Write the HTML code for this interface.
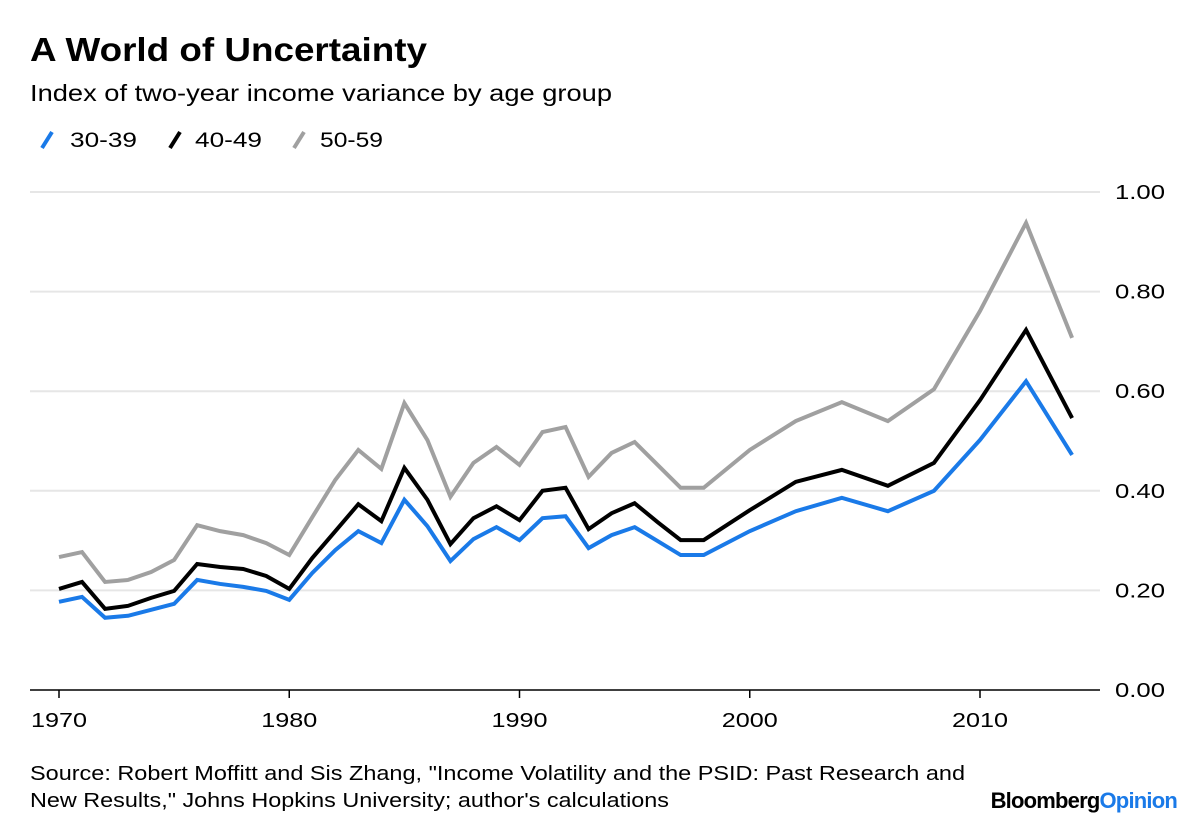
<!DOCTYPE html>
<html><head><meta charset="utf-8"><style>
body{margin:0;background:#fff;width:1200px;height:827px;overflow:hidden;font-family:"Liberation Sans",sans-serif;}
</style></head><body>
<svg width="1200" height="827" xmlns="http://www.w3.org/2000/svg" font-family="Liberation Sans, sans-serif">
<text x="30" y="61" font-size="33" font-weight="bold" fill="#000" textLength="397" lengthAdjust="spacingAndGlyphs">A World of Uncertainty</text>
<text x="30" y="101" font-size="23" fill="#000" textLength="582" lengthAdjust="spacingAndGlyphs">Index of two-year income variance by age group</text>
<g>
<g><line x1="42" y1="148" x2="52" y2="132" stroke="#1a7ae8" stroke-width="4"/><text x="70" y="147" font-size="21" textLength="67" lengthAdjust="spacingAndGlyphs">30-39</text></g>
<g><line x1="170" y1="148" x2="180" y2="132" stroke="#000" stroke-width="4"/><text x="195" y="147" font-size="21" textLength="67" lengthAdjust="spacingAndGlyphs">40-49</text></g>
<g><line x1="294" y1="148" x2="304" y2="132" stroke="#a0a0a0" stroke-width="4"/><text x="320" y="147" font-size="21" textLength="63" lengthAdjust="spacingAndGlyphs">50-59</text></g>
</g>
<g id="grid"></g><g id="axes"></g><g id="lines"></g>
<text x="30" y="780" font-size="20" fill="#000" textLength="935" lengthAdjust="spacingAndGlyphs">Source: Robert Moffitt and Sis Zhang, "Income Volatility and the PSID: Past Research and</text>
<text x="30" y="807" font-size="20" fill="#000" textLength="639" lengthAdjust="spacingAndGlyphs">New Results," Johns Hopkins University; author's calculations</text>
<text x="1177" y="808" font-size="22" font-weight="bold" text-anchor="end" letter-spacing="-0.8"><tspan fill="#000">Bloomberg</tspan><tspan fill="#1a7ae8">Opinion</tspan></text>
</svg>
<script>
const years=[1970,1971,1972,1973,1974,1975,1976,1977,1978,1979,1980,1981,1982,1983,1984,1985,1986,1987,1988,1989,1990,1991,1992,1993,1994,1995,1996,1997,1998,2000,2002,2004,2006,2008,2010,2012,2014];
const s3039=[0.177,0.187,0.145,0.149,0.161,0.173,0.221,0.213,0.207,0.199,0.181,0.235,0.281,0.319,0.295,0.382,0.329,0.259,0.303,0.327,0.301,0.345,0.349,0.285,0.311,0.327,0.299,0.271,0.271,0.319,0.359,0.386,0.359,0.400,0.502,0.620,0.472];
const s4049=[0.203,0.217,0.163,0.169,0.185,0.199,0.253,0.247,0.243,0.229,0.203,0.265,0.319,0.373,0.339,0.446,0.382,0.293,0.345,0.369,0.341,0.400,0.406,0.323,0.355,0.375,0.337,0.301,0.301,0.361,0.418,0.442,0.410,0.456,0.582,0.723,0.546];
const s5059=[0.267,0.277,0.217,0.221,0.237,0.261,0.331,0.319,0.311,0.295,0.271,0.347,0.422,0.482,0.444,0.576,0.502,0.388,0.456,0.488,0.452,0.518,0.528,0.428,0.476,0.498,0.452,0.406,0.406,0.482,0.540,0.578,0.540,0.604,0.761,0.938,0.707];
const yTicks=[0,0.2,0.4,0.6,0.8,1.0];
const xTicks=[1970,1980,1990,2000,2010];
const NS="http://www.w3.org/2000/svg";
const X=y=>59+(y-1970)*(980-59)/40;
const Y=v=>690-v*498;
function mk(tag,attrs,parent){const e=document.createElementNS(NS,tag);for(const k in attrs)e.setAttribute(k,attrs[k]);parent.appendChild(e);return e;}
const grid=document.getElementById('grid'),axes=document.getElementById('axes'),lines=document.getElementById('lines');
yTicks.forEach(t=>{
 if(t>0){const g=mk('line',{x1:30,x2:1100,y1:Y(t),y2:Y(t),stroke:'#e6e6e6','stroke-width':2},grid);
 
 }
 const tx=mk('text',{x:1115,y:Y(t)+7,'font-size':20,textLength:50,lengthAdjust:'spacingAndGlyphs'},axes);tx.textContent=t.toFixed(2);
 
 
});
const ax=mk('line',{x1:30,x2:1100,y1:690,y2:690,stroke:'#000','stroke-width':1.5},axes);


xTicks.forEach(t=>{
 const tk=mk('line',{x1:X(t),x2:X(t),y1:690,y2:698,stroke:'#000','stroke-width':1.5},axes);
 
 
 const tx=mk('text',{x:X(t),y:727,'font-size':20,'text-anchor':'middle',textLength:56,lengthAdjust:'spacingAndGlyphs'},axes);tx.textContent=t;
 
 
});
[[s5059,'#a0a0a0','line-50-59'],[s4049,'#000','line-40-49'],[s3039,'#1a7ae8','line-30-39']].forEach(([s,c,n])=>{
 const p=mk('polyline',{points:s.map((v,i)=>X(years[i])+','+Y(v)).join(' '),fill:'none',stroke:c,'stroke-width':4,'stroke-linejoin':'miter'},lines);
 
 
});
</script>
</body></html>
